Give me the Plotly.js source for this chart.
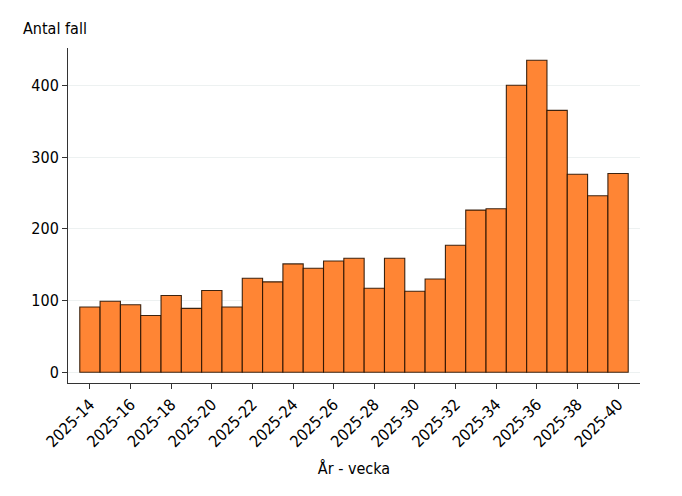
<!DOCTYPE html>
<html>
<head>
<meta charset="utf-8">
<script src="https://cdn.plot.ly/plotly-3.0.1.min.js"></script>
<style>html,body{margin:0;padding:0;background:#fff;}#chart{width:682px;height:496px;}</style>
</head>
<body>
<div id="chart"></div>
<script>
const weeks = ["2025-14","2025-15","2025-16","2025-17","2025-18","2025-19","2025-20","2025-21","2025-22","2025-23","2025-24","2025-25","2025-26","2025-27","2025-28","2025-29","2025-30","2025-31","2025-32","2025-33","2025-34","2025-35","2025-36","2025-37","2025-38","2025-39","2025-40"];
const cases = [91,99,94,79,107,89,114,91,131,126,151,145,155,159,117,159,113,130,177,226,228,400,435,365,276,246,277];
const tickLabels = weeks.filter((w,i)=> i%2===0);

const fontFam = "'DejaVu Sans Condensed', 'DejaVu Sans', sans-serif";
const data = [{
  type: 'bar',
  x: weeks,
  y: cases,
  width: 1,
  marker: {color: '#FF8534', line: {color: 'rgba(40,18,0,0.9)', width: 1.1}},
  hoverinfo: 'x+y'
}];
const layout = {
  width: 682, height: 496,
  margin: {l: 68, r: 42, t: 48, b: 113},
  paper_bgcolor: '#fff', plot_bgcolor: '#fff',
  font: {family: fontFam, size: 16, color: '#000'},
  showlegend: false,
  bargap: 0,
  title: {text: 'Antal fall', x: 23/682, xanchor: 'left', xref: 'container', y: 1 - 28/496, yanchor: 'middle', yref: 'container', font: {family: fontFam, size: 16, color: '#000'}},
  xaxis: {
    type: 'category',
    range: [-1.08, 27.08],
    tickmode: 'array', tickvals: tickLabels, ticktext: tickLabels,
    tickangle: -45,
    ticks: 'outside', ticklen: 5, tickcolor: '#333',
    showline: true, linecolor: '#333', linewidth: 1,
    showgrid: false, zeroline: false,
    tickfont: {family: fontFam, size: 16, color: '#000'},
    title: {text: 'År - vecka', font: {family: fontFam, size: 16, color: '#000'}, standoff: 12}
  },
  yaxis: {
    range: [-15, 452],
    tickvals: [0,100,200,300,400],
    ticks: 'outside', ticklen: 5, tickcolor: '#333',
    showline: true, linecolor: '#333', linewidth: 1,
    showgrid: true, gridcolor: '#edf1f1', gridwidth: 1,
    zeroline: false,
    tickfont: {family: fontFam, size: 16, color: '#000'}
  }
};
Plotly.newPlot('chart', data, layout, {staticPlot: true});
</script>
</body>
</html>
